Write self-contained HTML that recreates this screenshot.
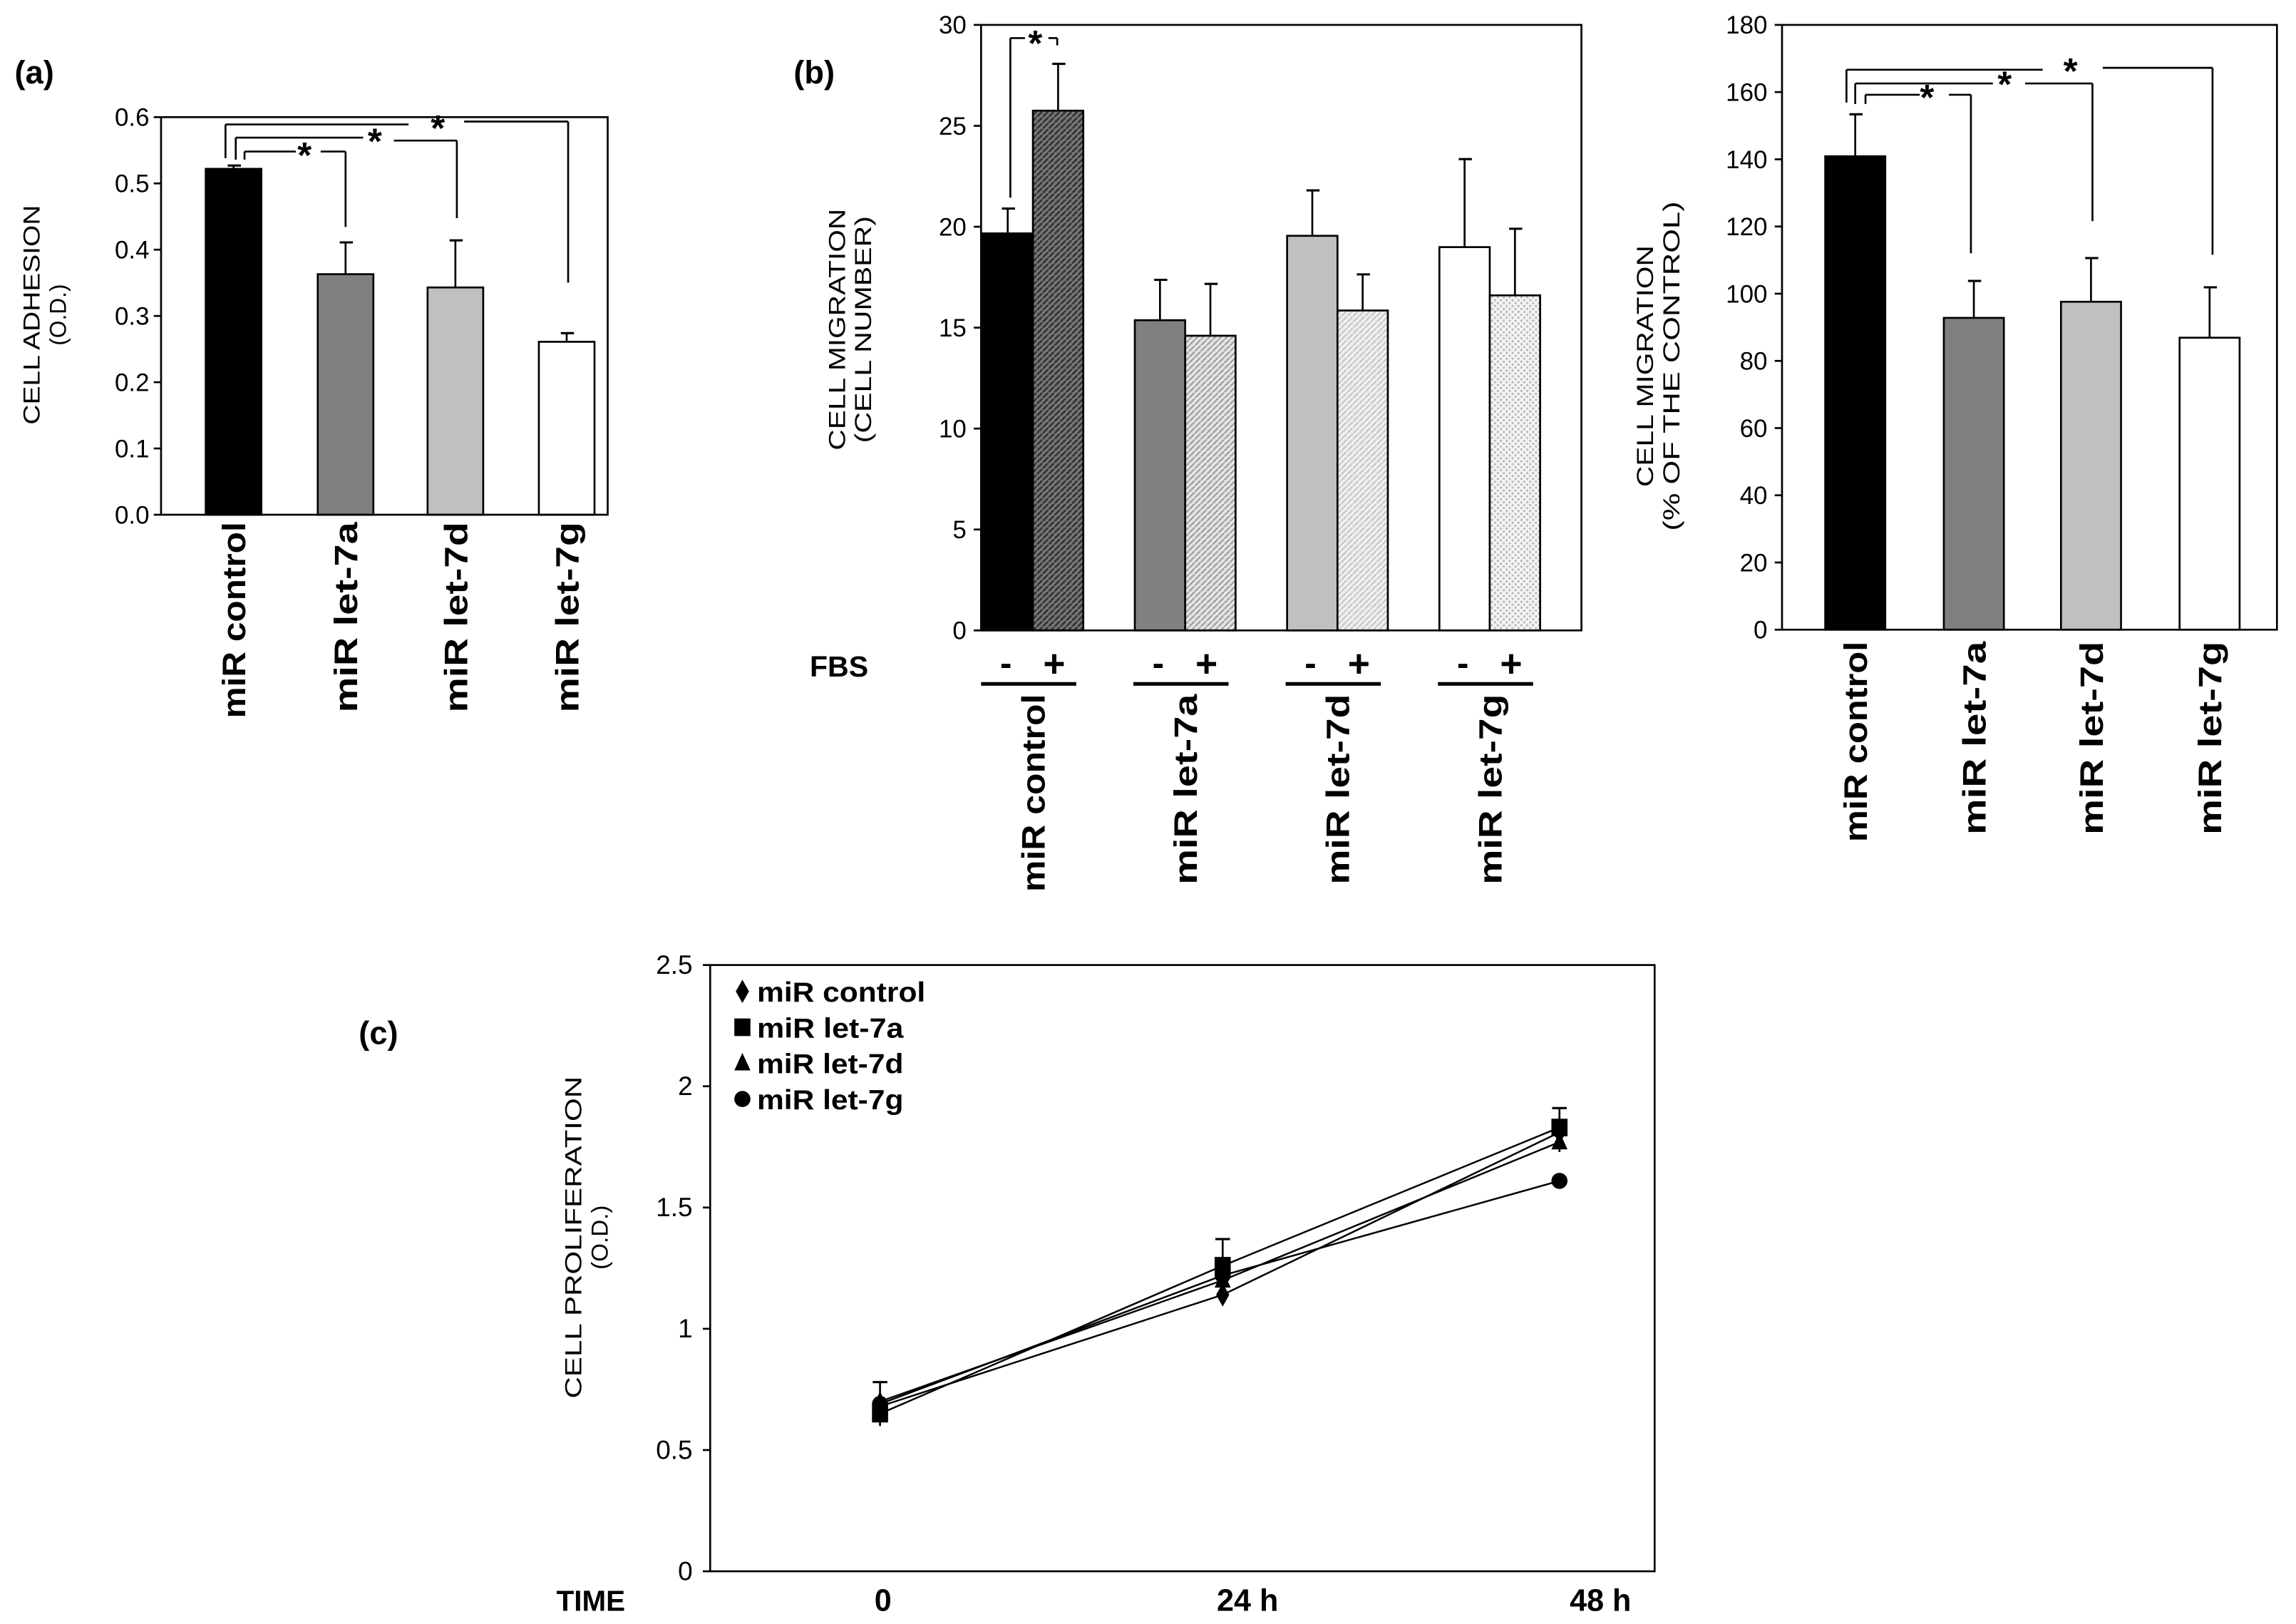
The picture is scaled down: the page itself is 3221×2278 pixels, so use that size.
<!DOCTYPE html>
<html><head><meta charset="utf-8">
<style>
html,body{margin:0;padding:0;background:#fff;}
svg{display:block;font-family:"Liberation Sans",Arial,sans-serif;}
</style></head>
<body>
<svg id="fig" width="3221" height="2278" viewBox="0 0 1568 1109" preserveAspectRatio="none" xmlns="http://www.w3.org/2000/svg">
<defs>
<pattern id="hatchDark" width="4" height="4" patternUnits="userSpaceOnUse"><rect width="4" height="4" fill="#777"/><path d="M0,4 L4,0" stroke="#333" stroke-width="1.3"/></pattern>
<pattern id="hatchMid" width="4" height="4" patternUnits="userSpaceOnUse"><rect width="4" height="4" fill="#e4e4e4"/><path d="M0,4 L4,0" stroke="#999" stroke-width="1"/></pattern>
<pattern id="hatchLight" width="4" height="4" patternUnits="userSpaceOnUse"><rect width="4" height="4" fill="#efefef"/><path d="M0,4 L4,0" stroke="#c4c4c4" stroke-width="1"/></pattern>
<pattern id="dots" width="4" height="4" patternUnits="userSpaceOnUse"><rect width="4" height="4" fill="#f4f4f4"/><circle cx="1" cy="1" r="0.8" fill="#bbb"/><circle cx="3" cy="3" r="0.8" fill="#bbb"/></pattern>
</defs>
<g id="root"></g>
</svg>
<script>
// Panel (a) data
const aCats = ["miR control","miR let-7a","miR let-7d","miR let-7g"];
const aVals = [0.522, 0.363, 0.343, 0.261];
const aErrs = [0.005, 0.048, 0.071, 0.013];
const aTicks = [0,0.1,0.2,0.3,0.4,0.5,0.6];
const aTickLabels = ["0.0","0.1","0.2","0.3","0.4","0.5","0.6"];
// Panel (b) data
const bCats = ["miR control","miR let-7a","miR let-7d","miR let-7g"];
const bMinus = [19.67, 15.37, 19.55, 18.99];
const bMinusErr = [1.23, 2.0, 2.25, 4.36];
const bPlus = [25.75, 14.6, 15.85, 16.6];
const bPlusErr = [2.32, 2.57, 1.79, 3.3];
const bTicks = [0,5,10,15,20,25,30];
// Panel (b right) data
const rCats = ["miR control","miR let-7a","miR let-7d","miR let-7g"];
const rVals = [140.9, 92.8, 97.6, 86.9];
const rErrs = [12.5, 11.0, 13.0, 15.0];
const rTicks = [0,20,40,60,80,100,120,140,160,180];
// Panel (c) data
const cTimes = ["0","24 h","48 h"];
const cSeriesNames = ["miR control","miR let-7a","miR let-7d","miR let-7g"];
const cControl = [0.68, 1.14, 1.81];
const cLet7a = [0.65, 1.26, 1.83];
const cLet7d = [0.70, 1.20, 1.77];
const cLet7g = [0.69, 1.22, 1.61];
const cErrTop = [0.78, 1.37, 1.91];
const cTicks = [0,0.5,1,1.5,2,2.5];
const cTickLabels = ["0","0.5","1","1.5","2","2.5"];

const NS="http://www.w3.org/2000/svg";
const root=document.getElementById('root');
function mk(tag,attrs,parent,text){const e=document.createElementNS(NS,tag);for(const k in attrs)e.setAttribute(k,attrs[k]);if(text!==undefined)e.textContent=text;(parent||root).appendChild(e);return e;}
function line(x1,y1,x2,y2,name,w){const e=mk('line',{x1,y1,x2,y2,stroke:'#000','stroke-width':w||1.3});

return e;}
function txt(x,y,s,name,opts){opts=opts||{};const e=mk('text',{x,y,'font-size':opts.size||16,'font-weight':opts.bold?'bold':'normal','text-anchor':opts.anchor||'start',fill:'#000'},root,s);
if(opts.len){e.setAttribute('textLength',opts.len);e.setAttribute('lengthAdjust','spacingAndGlyphs');}
if(opts.rot)e.setAttribute('transform','rotate(-90 '+x+' '+y+')');

return e;}
function rect(x,y,w,h,fill,name){const e=mk('rect',{x,y,width:w,height:h,fill,stroke:'#000','stroke-width':1.3});

return e;}
function errbar(x,y1,y2,name){line(x,y1,x,y2,name,1.3);line(x-4,y2,x+5,y2,name+'-cap',1.5);}
function slug(s){return s.toLowerCase().replace(/[^a-z0-9]+/g,'-');}
function star(x,cy,name){txt(x,cy+11,'*',name,{size:25,bold:true,anchor:'middle'});}

// ---------- Panel (a) ----------
(function(){
 const L=110,R=415,T=80,B=351.5,max=0.6;
 const y=v=>B-(v/max)*(B-T);
 const centers=[159.5,236,311,387],bw=38;
 const fills=['#000','#808080','#c0c0c0','#fff'];
 txt(10,57,'(a)','panel-a-label',{size:22,bold:true});
 aTicks.forEach((t,i)=>{line(L-5,y(t),L,y(t),'a-y-tick');txt(L-8,y(t)+6,aTickLabels[i],'a-y-tick-label',{size:17,anchor:'end'});});
 aVals.forEach((v,i)=>{
  errbar(centers[i],y(v),y(v+aErrs[i]),'a-error-'+slug(aCats[i]));
  rect(centers[i]-bw/2,y(v),bw,B-y(v),fills[i],'a-bar-'+slug(aCats[i]));
  txt(centers[i]+8,B+5,aCats[i],'a-x-label',{size:22,bold:true,anchor:'end',rot:true,len:i==0?134:130});
 });
 const ax=mk('rect',{x:L,y:T,width:R-L,height:B-T,fill:'none',stroke:'#000','stroke-width':1.3});
 
 
 txt(27,215,'CELL ADHESION','a-y-axis-title',{size:16,anchor:'middle',rot:true,len:150});
 txt(45,215,'(O.D.)','a-y-axis-title-unit',{size:16,anchor:'middle',rot:true,len:42});
 // outer
 line(154,85,279,85,'a-sig-bracket');line(154,85,154,108,'a-sig-bracket');
 line(317,83,388,83,'a-sig-bracket');line(388,83,388,193,'a-sig-bracket');
 star(299,85,'a-sig-star');
 // middle
 line(161,94,248,94,'a-sig-bracket');line(161,94,161,109,'a-sig-bracket');
 line(269,96,312,96,'a-sig-bracket');line(312,96,312,149,'a-sig-bracket');
 star(256,94,'a-sig-star');
 // inner
 line(167,103.5,202,103.5,'a-sig-bracket');line(167,103.5,167,109,'a-sig-bracket');
 line(219,103.5,236,103.5,'a-sig-bracket');line(236,103.5,236,155,'a-sig-bracket');
 star(208,103.5,'a-sig-star');
})();

// ---------- Panel (b) ----------
(function(){
 const L=670,R=1080,T=17,B=430.5,max=30;
 const y=v=>B-(v/max)*(B-T);
 const starts=[671,775,879,983],bw=34.4;
 const mFill=['#000','#808080','#c0c0c0','#fff'];
 const pFill=['url(#hatchDark)','url(#hatchMid)','url(#hatchLight)','url(#dots)'];
 txt(542,57,'(b)','panel-b-label',{size:22,bold:true});
 bTicks.forEach(t=>{line(L-5,y(t),L,y(t),'b-y-tick');txt(L-10,y(t)+6,String(t),'b-y-tick-label',{size:17,anchor:'end'});});
 bCats.forEach((c,i)=>{
  const x0=starts[i];
  errbar(x0+bw/2,y(bMinus[i]),y(bMinus[i]+bMinusErr[i]),'b-error-minus-'+slug(c));
  errbar(x0+bw*1.5,y(bPlus[i]),y(bPlus[i]+bPlusErr[i]),'b-error-plus-'+slug(c));
  rect(x0,y(bMinus[i]),bw,B-y(bMinus[i]),mFill[i],'b-bar-minus-'+slug(c));
  rect(x0+bw,y(bPlus[i]),bw,B-y(bPlus[i]),pFill[i],'b-bar-plus-'+slug(c));
  txt(x0+16,461,'-','b-fbs-minus',{size:24,bold:true,anchor:'middle'});
  txt(x0+49,462,'+','b-fbs-plus',{size:26,bold:true,anchor:'middle'});
  line(x0-1,467,x0+64,467,'b-group-underline',2.5);
  txt(x0+bw+8,474,c,'b-x-label',{size:22,bold:true,anchor:'end',rot:true,len:i==0?135:130});
 });
 const ax=mk('rect',{x:L,y:T,width:R-L,height:B-T,fill:'none',stroke:'#000','stroke-width':1.3});
 
 
 txt(553,462,'FBS','b-fbs-label',{size:20,bold:true});
 txt(577,225,'CELL MIGRATION','b-y-axis-title',{size:16,anchor:'middle',rot:true,len:165});
 txt(595,225,'(CELL NUMBER)','b-y-axis-title-unit',{size:16,anchor:'middle',rot:true,len:155});
 line(690,26,690,135,'b-sig-bracket');line(690,26,700,26,'b-sig-bracket');line(716,26,722,26,'b-sig-bracket');line(722,26,722,31,'b-sig-bracket');
 star(707,27,'b-sig-star');
})();

// ---------- Panel (b right) ----------
(function(){
 const L=1217,R=1555,T=17,B=430,max=180;
 const y=v=>B-(v/max)*(B-T);
 const centers=[1267,1348,1428,1509],bw=41;
 const fills=['#000','#808080','#c0c0c0','#fff'];
 rTicks.forEach(t=>{line(L-5,y(t),L,y(t),'r-y-tick');txt(L-10,y(t)+6,String(t),'r-y-tick-label',{size:17,anchor:'end'});});
 rVals.forEach((v,i)=>{
  errbar(centers[i],y(v),y(v+rErrs[i]),'r-error-'+slug(rCats[i]));
  rect(centers[i]-bw/2,y(v),bw,B-y(v),fills[i],'r-bar-'+slug(rCats[i]));
  txt(centers[i]+8,B+8,rCats[i],'r-x-label',{size:22,bold:true,anchor:'end',rot:true,len:i==0?137:132});
 });
 const ax=mk('rect',{x:L,y:T,width:R-L,height:B-T,fill:'none',stroke:'#000','stroke-width':1.3});
 
 
 txt(1129,250,'CELL MIGRATION','r-y-axis-title',{size:16,anchor:'middle',rot:true,len:165});
 txt(1147,250,'(% OF THE CONTROL)','r-y-axis-title-unit',{size:16,anchor:'middle',rot:true,len:225});
 line(1261,47.6,1395,47.6,'r-sig-bracket');line(1261,47.6,1261,70,'r-sig-bracket');
 line(1436,46.3,1511,46.3,'r-sig-bracket');line(1511,46.3,1511,174,'r-sig-bracket');
 star(1414,46,'r-sig-star');
 line(1267,57,1361,57,'r-sig-bracket');line(1267,57,1267,71,'r-sig-bracket');
 line(1383,57,1429,57,'r-sig-bracket');line(1429,57,1429,151,'r-sig-bracket');
 star(1369,55,'r-sig-star');
 line(1274,64.7,1311,64.7,'r-sig-bracket');line(1274,64.7,1274,71,'r-sig-bracket');
 line(1331,64.7,1346,64.7,'r-sig-bracket');line(1346,64.7,1346,173,'r-sig-bracket');
 star(1316,64,'r-sig-star');
})();

// ---------- Panel (c) ----------
(function(){
 const L=485,R=1130,T=659,B=1073,max=2.5;
 const y=v=>B-(v/max)*(B-T);
 const xs=[601,835,1065];
 const lx=[603,852,1093];
 const x=i=>xs[i];
 txt(245,713,'(c)','panel-c-label',{size:22,bold:true});
 cTicks.forEach((t,i)=>{line(L-5,y(t),L,y(t),'c-y-tick');txt(L-12,y(t)+6,cTickLabels[i],'c-y-tick-label',{size:18,anchor:'end'});});
 const ax=mk('rect',{x:L,y:T,width:R-L,height:B-T,fill:'none',stroke:'#000','stroke-width':1.3});
 
 
 cTimes.forEach((t,i)=>txt(lx[i],1100,t,'c-x-tick-label',{size:21,bold:true,anchor:'middle'}));
 txt(380,1100,'TIME','c-x-axis-title',{size:20,bold:true,len:47});
 txt(397,845,'CELL PROLIFERATION','c-y-axis-title',{size:16,anchor:'middle',rot:true,len:220});
 txt(415,845,'(O.D.)','c-y-axis-title-unit',{size:16,anchor:'middle',rot:true,len:44});
 cErrTop.forEach((v,i)=>{line(x(i),y(v),x(i),y(v)+30,'c-error-bar');line(x(i)-5,y(v),x(i)+5,y(v),'c-error-cap',1.5);});
 const series=[cControl,cLet7a,cLet7d,cLet7g];
 const shapes=['diamond','square','triangle','circle'];
 function marker(cx,cy,s,name){let e;
  if(s==='diamond')e=mk('polygon',{points:`${cx},${cy-8} ${cx+4.5},${cy} ${cx},${cy+8} ${cx-4.5},${cy}`,fill:'#000'});
  else if(s==='square')e=mk('rect',{x:cx-5.5,y:cy-6,width:11,height:12,fill:'#000'});
  else if(s==='triangle')e=mk('polygon',{points:`${cx},${cy-7} ${cx+5.5},${cy+5} ${cx-5.5},${cy+5}`,fill:'#000'});
  else e=mk('circle',{cx,cy,r:5.5,fill:'#000'});
  
  }
 series.forEach((arr,si)=>{
  const pl=mk('polyline',{points:arr.map((v,i)=>x(i)+','+y(v)).join(' '),fill:'none',stroke:'#000','stroke-width':1.2});
  
  
  arr.forEach((v,i)=>marker(x(i),y(v),shapes[si],'c-point-'+slug(cSeriesNames[si])));
 });
 const lens=[115,100,100,100];
 cSeriesNames.forEach((n,i)=>{const ly=677+i*24.5;marker(507,ly,shapes[i],'c-legend-marker');txt(517,ly+7,n,'c-legend-entry',{size:19,bold:true,len:lens[i]});});
})();
</script>
</body></html>
